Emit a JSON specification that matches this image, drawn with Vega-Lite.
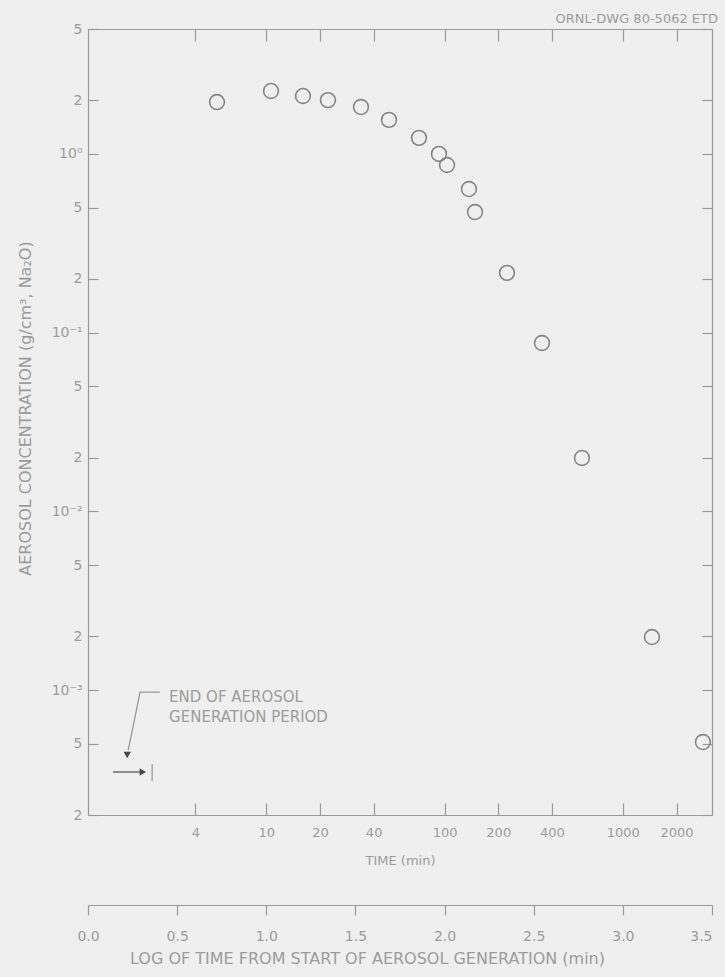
{
  "$schema": "https://vega.github.io/schema/vega-lite/v6.json",
  "width": 624,
  "height": 786,
  "autosize": {"type": "none"},
  "padding": {"left": 88, "top": 29, "right": 13, "bottom": 162},
  "background": "#efefef",
  "view": {"stroke": null},
  "config": {
    "font": "DejaVu Sans",
    "axis": {
      "domainColor": "#9a9a9a",
      "tickColor": "#9a9a9a",
      "labelColor": "#9c9c9c",
      "titleColor": "#9c9c9c",
      "grid": false,
      "titleFontWeight": "normal",
      "labelFontSize": 13,
      "titleFontSize": 13,
      "domainWidth": 1.2,
      "tickWidth": 1.2,
      "labelFlush": false,
      "labelOverlap": false
    }
  },
  "title": {
    "text": "ORNL-DWG 80-5062 ETD",
    "anchor": "end",
    "frame": "group",
    "fontSize": 13,
    "fontWeight": "normal",
    "color": "#9c9c9c",
    "offset": -4,
    "dx": 6
  },
  "datasets": {
    "obs": [
      {"t": 5.29, "c": 1.95},
      {"t": 10.63, "c": 2.25},
      {"t": 16.06, "c": 2.11},
      {"t": 22.18, "c": 2.0},
      {"t": 33.97, "c": 1.83},
      {"t": 48.78, "c": 1.55},
      {"t": 71.85, "c": 1.23},
      {"t": 93.0, "c": 1.0},
      {"t": 103.2, "c": 0.867},
      {"t": 137.0, "c": 0.636},
      {"t": 148.1, "c": 0.473},
      {"t": 223.9, "c": 0.216},
      {"t": 351.8, "c": 0.0875},
      {"t": 589.7, "c": 0.0199},
      {"t": 1456, "c": 0.00198},
      {"t": 2813, "c": 0.000512}
    ],
    "lines": [
      {"seg": "leader", "ord": 1, "t": 2.53, "c": 0.000975},
      {"seg": "leader", "ord": 2, "t": 1.96, "c": 0.000975},
      {"seg": "leader", "ord": 3, "t": 1.68, "c": 0.00046},
      {"seg": "arrow", "ord": 1, "t": 1.38, "c": 0.000348},
      {"seg": "arrow", "ord": 2, "t": 1.96, "c": 0.000348},
      {"seg": "tick", "ord": 1, "t": 2.29, "c": 0.000385},
      {"seg": "tick", "ord": 2, "t": 2.29, "c": 0.00031}
    ],
    "heads": [
      {"t": 1.66, "c": 0.000433, "shape": "triangle-down"},
      {"t": 2.03, "c": 0.000348, "shape": "triangle-right"}
    ],
    "labels": [
      {"t": 2.85, "c": 0.000914, "label": "END OF AEROSOL"},
      {"t": 2.85, "c": 0.000706, "label": "GENERATION PERIOD"}
    ],
    "lowaxis": [{"v": 0}, {"v": 3.5}]
  },
  "layer": [
    {
      "data": {"name": "obs"},
      "mark": {"type": "point", "shape": "circle", "filled": false, "size": 220, "strokeWidth": 1.6, "color": "#858585", "opacity": 1},
      "encoding": {
        "x": {
          "field": "t", "type": "quantitative",
          "scale": {"type": "log", "domain": [1, 3162.28], "nice": false},
          "axis": {
            "orient": "bottom",
            "values": [4, 10, 20, 40, 100, 200, 400, 1000, 2000],
            "labelExpr": "format(datum.value, 'd')",
            "tickSize": -12,
            "labelPadding": 23,
            "title": "TIME (min)",
            "titleX": 312,
            "titleY": 45,
            "titleBaseline": "middle",
            "titleAlign": "center"
          }
        },
        "y": {
          "field": "c", "type": "quantitative",
          "scale": {"type": "log", "domain": [0.0002, 5], "nice": false},
          "axis": {
            "orient": "left",
            "values": [5, 2, 1, 0.5, 0.2, 0.1, 0.05, 0.02, 0.01, 0.005, 0.002, 0.001, 0.0005, 0.0002],
            "labelExpr": "datum.value == 1 ? '10⁰' : datum.value == 0.1 ? '10⁻¹' : datum.value == 0.01 ? '10⁻²' : datum.value == 0.001 ? '10⁻³' : format(datum.value / pow(10, floor(log(datum.value) / LN10 + 1e-9)), '.0f')",
            "tickSize": -10,
            "labelPadding": 16,
            "labelFontSize": 14,
            "title": "AEROSOL CONCENTRATION (g/cm³, Na₂O)",
            "titleFontSize": 16,
            "titleX": -63,
            "titleY": 379,
            "titleAngle": -90,
            "titleBaseline": "middle",
            "titleAlign": "center"
          }
        }
      }
    },
    {
      "data": {"name": "lines"},
      "mark": {"type": "line", "strokeWidth": 1.3},
      "encoding": {
        "x": {"field": "t", "type": "quantitative", "scale": {"type": "log", "domain": [1, 3162.28], "nice": false}, "axis": null},
        "y": {"field": "c", "type": "quantitative", "scale": {"type": "log", "domain": [0.0002, 5], "nice": false}, "axis": null},
        "detail": {"field": "seg"},
        "order": {"field": "ord"},
        "color": {"field": "seg", "type": "nominal", "scale": {"domain": ["leader", "arrow", "tick"], "range": ["#9a9a9a", "#555555", "#9a9a9a"]}, "legend": null}
      }
    },
    {
      "data": {"name": "heads"},
      "mark": {"type": "point", "filled": true, "size": 55, "color": "#4a4a4a", "opacity": 1},
      "encoding": {
        "x": {"field": "t", "type": "quantitative", "scale": {"type": "log", "domain": [1, 3162.28], "nice": false}, "axis": null},
        "y": {"field": "c", "type": "quantitative", "scale": {"type": "log", "domain": [0.0002, 5], "nice": false}, "axis": null},
        "shape": {"field": "shape", "type": "nominal", "scale": null}
      }
    },
    {
      "data": {"name": "labels"},
      "mark": {"type": "text", "align": "left", "baseline": "middle", "fontSize": 15, "color": "#9c9c9c"},
      "encoding": {
        "x": {"field": "t", "type": "quantitative", "scale": {"type": "log", "domain": [1, 3162.28], "nice": false}, "axis": null},
        "y": {"field": "c", "type": "quantitative", "scale": {"type": "log", "domain": [0.0002, 5], "nice": false}, "axis": null},
        "text": {"field": "label"}
      }
    },
    {
      "data": {"name": "obs"},
      "mark": {"type": "point", "opacity": 0},
      "encoding": {
        "x": {
          "field": "t", "type": "quantitative",
          "scale": {"type": "log", "domain": [1, 3162.28], "nice": false},
          "axis": {"orient": "top", "values": [4, 10, 20, 40, 100, 200, 400, 1000, 2000], "labels": false, "tickSize": -12, "title": null}
        },
        "y": {
          "field": "c", "type": "quantitative",
          "scale": {"type": "log", "domain": [0.0002, 5], "nice": false},
          "axis": {"orient": "right", "values": [5, 2, 1, 0.5, 0.2, 0.1, 0.05, 0.02, 0.01, 0.005, 0.002, 0.001, 0.0005, 0.0002], "labels": false, "tickSize": -10, "title": null}
        }
      }
    },
    {
      "data": {"name": "lowaxis"},
      "mark": {"type": "point", "opacity": 0},
      "encoding": {
        "x": {
          "field": "v", "type": "quantitative",
          "scale": {"type": "linear", "domain": [0, 3.5], "nice": false, "zero": false},
          "axis": {
            "orient": "bottom",
            "offset": 90,
            "values": [0, 0.5, 1, 1.5, 2, 2.5, 3, 3.5],
            "format": ".1f",
            "tickSize": 10,
            "labelPadding": 14,
            "labelFontSize": 14,
            "labelAlign": {"condition": {"test": "datum.value == 3.5", "value": "right"}, "value": "center"},
            "title": "LOG OF TIME FROM START OF AEROSOL GENERATION (min)",
            "titleFontSize": 16,
            "titleX": 279,
            "titleY": 53,
            "titleBaseline": "middle",
            "titleAlign": "center"
          }
        }
      }
    }
  ],
  "resolve": {
    "scale": {"x": "independent", "y": "independent"},
    "axis": {"x": "independent", "y": "independent"}
  }
}
